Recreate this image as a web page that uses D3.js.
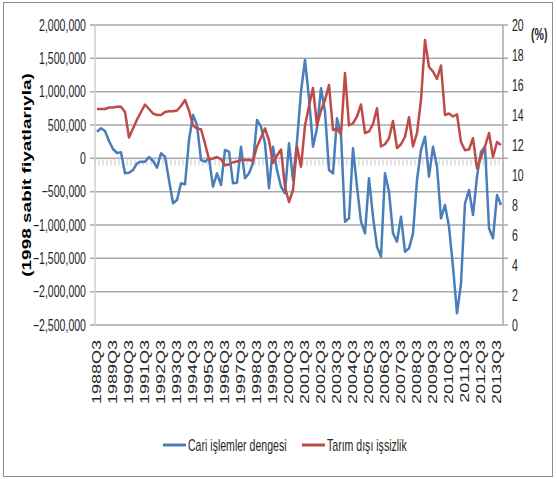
<!DOCTYPE html>
<html>
<head>
<meta charset="utf-8">
<script src="https://cdn.jsdelivr.net/npm/d3@7"></script>
<style>
  body { margin: 0; background: #fff; }
  svg { display: block; font-family: "Liberation Sans", Arial, sans-serif; }
</style>
</head>
<body>
<div id="chart"></div>
<script>
// quarters run from 1988Q3 to 2013Q4
const firstYear = 1988, firstQuarter = 3, nQuarters = 102;

const tickLabels = ["1988Q3","1989Q3","1990Q3","1991Q3","1992Q3","1993Q3","1994Q3",
  "1995Q3","1996Q3","1997Q3","1998Q3","1999Q3","2000Q3","2001Q3","2002Q3","2003Q3",
  "2004Q3","2005Q3","2006Q3","2007Q3","2008Q3","2009Q3","2010Q3","2011Q3","2012Q3","2013Q3"];

const leftTicks = [2000000, 1500000, 1000000, 500000, 0, -500000, -1000000, -1500000, -2000000, -2500000];
const rightTicks = [20, 18, 16, 14, 12, 10, 8, 6, 4, 2, 0];

// Cari işlemler dengesi (1998 sabit fiyatlarıyla)
const cari = [
  400000, 450000, 410000, 260000, 140000, 80000, 90000, -225000, -215000, -175000,
  -75000, -50000, -50000, 20000, -40000, -140000, 75000, 25000, -325000, -675000,
  -625000, -375000, -390000, 275000, 650000, 500000, -25000, -50000, 0, -425000,
  -225000, -400000, 125000, 100000, -375000, -365000, 175000, -300000, -225000, -75000,
  575000, 475000, 225000, -450000, 175000, -175000, -425000, -525000, 225000, -325000,
  250000, 1000000, 1475000, 900000, 175000, 450000, 1050000, 700000, -175000, -225000,
  600000, 350000, -950000, -900000, 150000, -425000, -950000, -1125000, -300000, -875000,
  -1325000, -1475000, -225000, -500000, -1125000, -1250000, -875000, -1400000, -1350000, -1125000,
  -325000, 125000, 325000, -275000, 175000, -125000, -900000, -700000, -1025000, -1625000,
  -2325000, -1875000, -675000, -475000, -850000, -275000, 100000, 175000, -1050000, -1200000,
  -550000, -700000
];

// Tarım dışı işsizlik (%)
const issizlik = [
  14.4, 14.4, 14.4, 14.5, 14.5, 14.55, 14.55, 14.2, 12.5, 13.1,
  13.7, 14.2, 14.7, 14.4, 14.1, 14.0, 14.0, 14.2, 14.25, 14.25,
  14.3, 14.6, 15.0, 14.3, 13.3, 13.1, 13.05, 12.1, 11.05, 11.1,
  11.2, 11.05, 10.65, 10.7, 10.85, 10.9, 11.0, 11.0, 11.0, 10.95,
  11.9, 12.5, 13.1, 12.3, 10.8, 11.3, 11.7, 9.2, 8.2, 9.0,
  11.9, 10.55, 13.3, 14.6, 15.8, 13.3, 14.3, 15.0, 16.0, 13.0,
  13.1, 12.7, 16.8, 13.3, 13.45, 13.9, 14.7, 12.8, 12.9, 13.4,
  14.45, 11.9, 12.05, 12.45, 13.6, 11.8, 12.05, 12.55, 13.85, 11.9,
  12.8, 15.0, 19.0, 17.2, 16.9, 16.4, 17.3, 14.0, 14.1, 13.9,
  14.05, 12.2, 11.65, 11.7, 12.45, 10.45, 11.2, 11.9, 12.8, 11.2,
  12.2, 12.0
];

const seriesNames = ["Cari işlemler dengesi", "Tarım dışı işsizlik"];
const colors = ["#4a7ebb", "#be4b48"];

const quarters = [];
for (let i = 0; i < nQuarters; i++) {
  let q = firstQuarter - 1 + i;
  quarters.push((firstYear + Math.floor(q / 4)) + "Q" + (q % 4 + 1));
}

const width = 557, height = 479;
const plot = {left: 95, right: 503, top: 25, bottom: 325};
const sx = 0.66; // the picture is squeezed sideways

const svg = d3.select("#chart").append("svg")
  .attr("width", width)
  .attr("height", height);

svg.append("rect")
  .attr("x", 3.5).attr("y", 2.5)
  .attr("width", 549).attr("height", 474)
  .attr("fill", "#fff")
  .attr("stroke", "#8c8c8c");

const x = d3.scaleBand().domain(quarters).range([plot.left, plot.right]).padding(0);
const yL = d3.scaleLinear().domain([-2500000, 2000000]).range([plot.bottom, plot.top]);
const yR = d3.scaleLinear().domain([0, 20]).range([plot.bottom, plot.top]);
const cx = d => x(d) + x.bandwidth() / 2;

// grid lines with short outer ticks on both sides
svg.append("g").selectAll("line")
  .data(leftTicks)
  .join("line")
    .attr("x1", plot.left - 5)
    .attr("x2", plot.right + 5)
    .attr("y1", d => yL(d))
    .attr("y2", d => yL(d))
    .attr("stroke", "#a9a9a9")
    .attr("stroke-width", 1.5);

// value axis lines
svg.append("line")
  .attr("x1", plot.left).attr("x2", plot.left)
  .attr("y1", plot.top).attr("y2", plot.bottom)
  .attr("stroke", "#cfcfcf").attr("stroke-width", 1.5);
svg.append("line")
  .attr("x1", plot.right).attr("x2", plot.right)
  .attr("y1", plot.top).attr("y2", plot.bottom)
  .attr("stroke", "#a9a9a9").attr("stroke-width", 1.5);

// category tick marks on the zero line
const y0 = yL(0);
svg.append("g").selectAll("line")
  .data(quarters)
  .join("line")
    .attr("x1", d => x(d))
    .attr("x2", d => x(d))
    .attr("y1", y0)
    .attr("y2", y0 + 7)
    .attr("stroke", "#c8c8c8")
    .attr("stroke-width", 1);

// left labels
svg.append("g").selectAll("text")
  .data(leftTicks)
  .join("text")
    .attr("transform", d => "translate(86," + yL(d) + ") scale(" + sx + ",1)")
    .attr("dy", "0.35em")
    .attr("text-anchor", "end")
    .style("font-size", "16px")
    .style("fill", "#262626")
    .text(d => d3.format(",")(d));

// right labels
svg.append("g").selectAll("text")
  .data(rightTicks)
  .join("text")
    .attr("transform", d => "translate(512," + yR(d) + ") scale(" + sx + ",1)")
    .attr("dy", "0.35em")
    .attr("text-anchor", "start")
    .style("font-size", "16px")
    .style("fill", "#262626")
    .text(d => d);

svg.append("text")
  .attr("transform", "translate(531,40) scale(" + sx + ",1)")
  .style("font-size", "16px")
  .style("font-weight", "bold")
  .style("fill", "#262626")
  .text("(%)");

// y title
svg.append("text")
  .attr("transform", "translate(27,175) scale(" + sx + ",1) rotate(-90)")
  .attr("text-anchor", "middle")
  .attr("dy", "0.35em")
  .style("font-size", "19px")
  .style("font-weight", "bold")
  .style("fill", "#000")
  .text("(1998 sabit fiyatlarıyla)");

// category labels
svg.append("g").selectAll("text")
  .data(tickLabels)
  .join("text")
    .attr("transform", d => "translate(" + cx(d) + ",340) scale(" + sx + ",1) rotate(-90)")
    .attr("text-anchor", "end")
    .attr("dy", "0.35em")
    .style("font-size", "18px")
    .style("fill", "#262626")
    .text(d => d);

// lines
const lineL = d3.line().x((d, i) => cx(quarters[i])).y(d => yL(d));
const lineR = d3.line().x((d, i) => cx(quarters[i])).y(d => yR(d));

svg.append("path")
  .datum(cari)
  .attr("d", lineL)
  .attr("fill", "none")
  .attr("stroke", colors[0])
  .attr("stroke-width", 2.5)
  .attr("stroke-linejoin", "round");

svg.append("path")
  .datum(issizlik)
  .attr("d", lineR)
  .attr("fill", "none")
  .attr("stroke", colors[1])
  .attr("stroke-width", 2.5)
  .attr("stroke-linejoin", "round");

// legend
const legendX = [163, 302];
const legend = svg.append("g").selectAll("g")
  .data(seriesNames)
  .join("g")
    .attr("transform", (d, i) => "translate(" + legendX[i] + ",445)");

legend.append("line")
  .attr("x1", 0).attr("x2", 23)
  .attr("stroke", (d, i) => colors[i])
  .attr("stroke-width", 3);

legend.append("text")
  .attr("transform", "translate(25,0) scale(" + sx + ",1)")
  .attr("dy", "0.35em")
  .style("font-size", "16px")
  .style("fill", "#262626")
  .text(d => d);
</script>
</body>
</html>
